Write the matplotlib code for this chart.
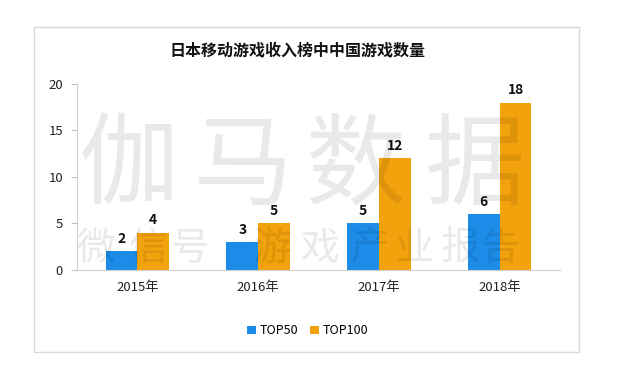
import numpy as np
import matplotlib
matplotlib.use('Agg')
import matplotlib.pyplot as plt
from matplotlib.patches import Rectangle

plt.rcParams['font.family'] = ['Noto Sans CJK SC', 'DejaVu Sans']

## data
years = ['2015年', '2016年', '2017年', '2018年']
top50 = [2, 3, 5, 6]
top100 = [4, 5, 12, 18]

blue = '#1C8CE8'
orange = '#F2A20C'

fig = plt.figure(figsize=(6.19, 3.66), dpi=100)
ax = fig.add_axes([0.1244, 0.2623, 0.7803, 0.5082])

# frame around the whole chart
fig.patches.append(Rectangle((0.0549, 0.0383), 0.8805, 0.888, transform=fig.transFigure,
                             fill=False, edgecolor='#D9D9D9', linewidth=1.0))

x = np.arange(len(years))
w = 0.263
b1 = ax.bar(x - w / 2, top50, w, color=blue, label='TOP50')
b2 = ax.bar(x + w / 2, top100, w, color=orange, label='TOP100')
ax.bar_label(b1, padding=4, fontsize=10, fontweight='bold', color='#111111')
ax.bar_label(b2, padding=4, fontsize=10, fontweight='bold', color='#111111')

ax.set_xlim(-0.5, 3.5)
ax.set_ylim(0, 20)
ax.set_yticks([0, 5, 10, 15, 20])
ax.set_xticks(x)
ax.set_xticklabels(years)
ax.tick_params(axis='x', length=0, pad=8, labelsize=9.5, colors='#222222')
ax.tick_params(axis='y', length=4, width=0.8, color='#BFBFBF', pad=6, labelsize=9.5, labelcolor='#222222')
for s in ['top', 'right']:
    ax.spines[s].set_visible(False)
ax.spines['left'].set_color('#D0D0D0')
ax.spines['bottom'].set_color('#D0D0D0')

fig.text(0.48, 0.863, '日本移动游戏收入榜中中国游戏数量', ha='center', va='center',
         fontsize=11.5, fontweight='bold', color='#111111')

fig.legend(loc='center', bbox_to_anchor=(0.497, 0.096), ncol=2, frameon=False,
           fontsize=9, handlelength=0.7, handleheight=0.7, handletextpad=0.3,
           columnspacing=0.9)

# watermark
big = ['伽', '马', '数', '据']
big_x = [128, 242, 355, 474]
for c, px in zip(big, big_x):
    fig.text(px / 619, 1 - 168 / 366, c, ha='center', va='center', fontsize=72,
             fontweight='light', color='black', alpha=0.085, zorder=10)
small = ['微', '信', '号', '游', '戏', '产', '业', '报', '告']
small_x = [96, 148, 190, 272, 320, 370, 414, 460, 500]
for c, px in zip(small, small_x):
    fig.text(px / 619, 1 - 249 / 366, c, ha='center', va='center', fontsize=28,
             fontweight='light', color='black', alpha=0.085, zorder=10)

plt.savefig('out.png', dpi=100)
